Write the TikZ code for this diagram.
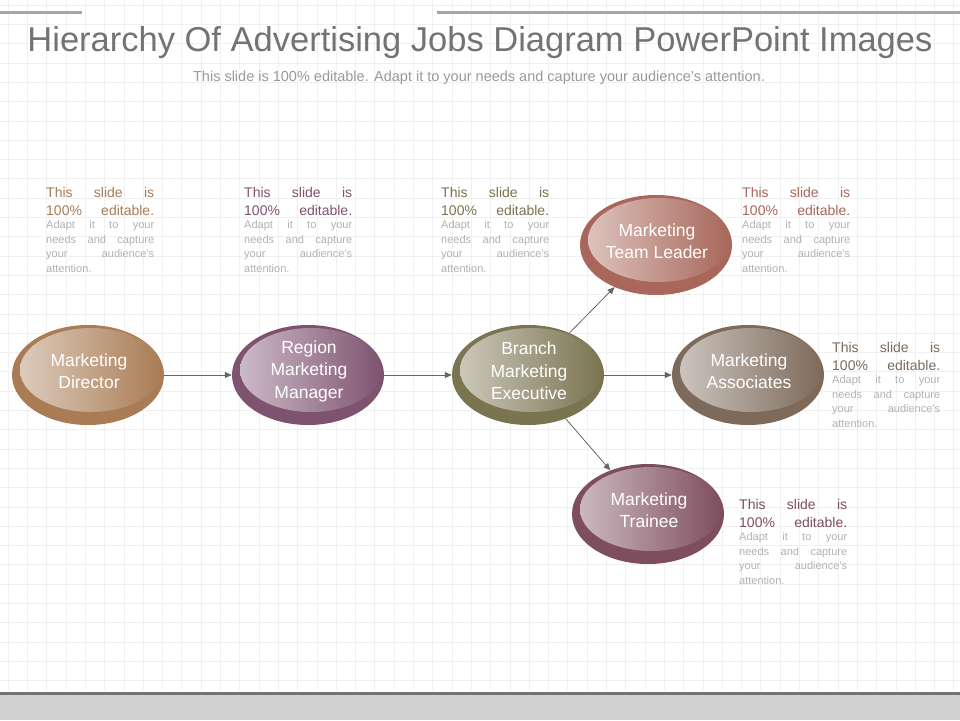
\documentclass[tikz,border=0pt]{standalone}
\usepackage{fontspec}
\setmainfont{Liberation Sans}
\usetikzlibrary{shapes.geometric,arrows.meta}
\tikzset{x=1pt,y=-1pt,
 outer/.style={ellipse,minimum width=152pt,minimum height=100pt,inner sep=0pt},
 lab/.style={text=white,font=\fontsize{17.5}{22.5}\selectfont,align=center},
 conn/.style={draw=black!60,line width=0.8pt,-{Triangle[length=7pt,width=6pt]}},
 desc/.style={anchor=north west,inner sep=0pt}}
\newcommand{\jline}[1]{\makebox[108pt][s]{#1}}
\newcommand{\descr}[1]{\begin{minipage}[t]{108pt}\fontsize{14}{18}\selectfont\color{#1}\jline{This slide is}\par\jline{100\% editable.}\par\vspace{-1pt}
\fontsize{11}{14.5}\selectfont\color{black!30}\jline{Adapt it to your}\par\jline{needs and capture}\par\jline{your audience's}\par attention.\end{minipage}}
\newcommand{\bubble}[5]{%
 \node[outer,fill=#2] (#1) at (#3,#4) {};
 \shade[left color=#2!40!white,right color=#2] (#3+3,#4-5) ellipse [x radius=71pt,y radius=42pt];
 \node[lab] (#1t) at (#3+1,#4-4) {#5};}
\definecolor{cA}{HTML}{A97C55}
\definecolor{cB}{HTML}{7E5370}
\definecolor{cC}{HTML}{7A7450}
\definecolor{cD}{HTML}{A8675A}
\definecolor{cE}{HTML}{7D6A5A}
\definecolor{cF}{HTML}{7E4E5E}
\begin{document}
\begin{tikzpicture}
\fill[white] (0,0) rectangle (960,720);
\useasboundingbox (0,0) rectangle (960,720);
\foreach \i in {0,...,49} {\draw[black!6,line width=0.5pt] (8+\i*19.3,0) -- (8+\i*19.3,690);}
\foreach \i in {0,...,36} {\draw[black!6,line width=0.5pt] (0,5+\i*19.3) -- (960,5+\i*19.3);}
\draw[black!35,line width=3pt] (0,12) -- (82,12);
\draw[black!35,line width=3pt] (437,12) -- (960,12);
\fill[black!18] (0,695) rectangle (960,720);
\draw[black!55,line width=3pt] (0,693) -- (960,693);
\node[text=black!55,font=\fontsize{34.5}{40}\selectfont] (title) at (480,43) {Hierarchy Of Advertising Jobs Diagram PowerPoint Images};
\node[text=black!40,font=\fontsize{14.5}{17}\selectfont] (sub) at (479,78) {This slide is 100\% editable. Adapt it to your needs and capture your audience's attention.};
\bubble{d}{cA}{88}{375}{Marketing\\Director}
\bubble{r}{cB}{308}{375}{Region\\Marketing\\Manager}
\bubble{b}{cC}{528}{375}{Branch\\Marketing\\Executive}
\bubble{a}{cE}{748}{375}{Marketing\\Associates}
\bubble{t}{cD}{656}{245}{Marketing\\Team Leader}
\bubble{tr}{cF}{648}{514}{Marketing\\Trainee}
\draw[conn] (d) -- (r);
\draw[conn] (r) -- (b);
\draw[conn] (b) -- (a);
\draw[conn] (b) -- (t);
\draw[conn] (b) -- (tr);
\node[desc] (t1) at (46,187) {\descr{cA}};
\node[desc] (t2) at (244,187) {\descr{cB}};
\node[desc] (t3) at (441,187) {\descr{cC}};
\node[desc] (t4) at (742,187) {\descr{cD}};
\node[desc] (t5) at (832,342) {\descr{cE}};
\node[desc] (t6) at (739,499) {\descr{cF}};
\end{tikzpicture}
\end{document}
